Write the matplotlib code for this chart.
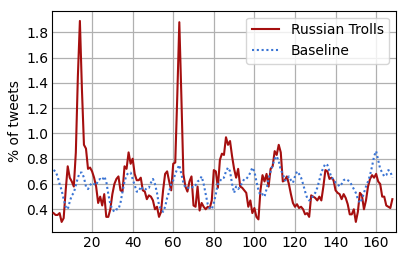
import matplotlib
matplotlib.use("Agg")
import matplotlib.pyplot as plt
import numpy as np

hours = list(range(1, 169))

trolls = [
    0.37, 0.355, 0.355, 0.37, 0.30, 0.33, 0.55, 0.74, 0.65, 0.62,
    0.58, 0.85, 1.45, 1.89, 1.35, 0.91, 0.88, 0.72, 0.73, 0.70,
    0.65, 0.58, 0.45, 0.50, 0.43, 0.52, 0.34, 0.34, 0.40, 0.52,
    0.60, 0.64, 0.66, 0.55, 0.54, 0.74, 0.72, 0.85, 0.76, 0.80,
    0.68, 0.63, 0.63, 0.65, 0.55, 0.54, 0.48, 0.51, 0.50, 0.47,
    0.40, 0.42, 0.34, 0.38, 0.55, 0.68, 0.70, 0.62, 0.55, 0.76,
    0.77, 1.30, 1.88, 1.30, 0.68, 0.58, 0.54, 0.62, 0.66, 0.43,
    0.42, 0.58, 0.39, 0.45, 0.42, 0.40, 0.42, 0.41, 0.47, 0.71,
    0.70, 0.57, 0.79, 0.84, 0.83, 0.97, 0.91, 0.94, 0.82, 0.72,
    0.65, 0.72, 0.58, 0.57, 0.55, 0.53, 0.42, 0.47, 0.37, 0.41,
    0.34, 0.32, 0.55, 0.67, 0.62, 0.68, 0.58, 0.72, 0.74, 0.86,
    0.83, 0.91, 0.85, 0.62, 0.63, 0.66, 0.60, 0.52, 0.45, 0.42,
    0.44, 0.41, 0.42, 0.40, 0.36, 0.37, 0.34, 0.51, 0.50, 0.49,
    0.47, 0.50, 0.47, 0.58, 0.71, 0.70, 0.64, 0.65, 0.63, 0.55,
    0.53, 0.52, 0.48, 0.52, 0.49, 0.44, 0.36, 0.36, 0.40, 0.30,
    0.38, 0.53, 0.51, 0.40, 0.47, 0.58, 0.64, 0.67, 0.65, 0.68,
    0.62, 0.60, 0.50, 0.50, 0.43, 0.42, 0.41, 0.48,
]

baseline = [
    0.71, 0.70, 0.66, 0.60, 0.55, 0.48, 0.42, 0.40, 0.46, 0.51,
    0.53, 0.59, 0.65, 0.69, 0.69, 0.65, 0.58, 0.56, 0.59, 0.61,
    0.60, 0.59, 0.63, 0.64, 0.63, 0.66, 0.62, 0.52, 0.44, 0.40,
    0.38, 0.40, 0.40, 0.45, 0.54, 0.62, 0.67, 0.69, 0.69, 0.64,
    0.59, 0.54, 0.54, 0.58, 0.56, 0.55, 0.57, 0.57, 0.61, 0.64,
    0.60, 0.53, 0.43, 0.40, 0.38, 0.42, 0.49, 0.54, 0.60, 0.63,
    0.68, 0.72, 0.75, 0.68, 0.61, 0.57, 0.57, 0.57, 0.58, 0.57,
    0.59, 0.62, 0.63, 0.66, 0.60, 0.52, 0.44, 0.41, 0.40, 0.45,
    0.52, 0.60, 0.62, 0.65, 0.65, 0.70, 0.73, 0.70, 0.60, 0.53,
    0.58, 0.56, 0.58, 0.61, 0.64, 0.64, 0.66, 0.69, 0.73, 0.70,
    0.62, 0.55, 0.51, 0.52, 0.50, 0.56, 0.64, 0.70, 0.75, 0.80,
    0.82, 0.78, 0.71, 0.68, 0.63, 0.63, 0.66, 0.63, 0.61, 0.66,
    0.70, 0.68, 0.65, 0.60, 0.54, 0.49, 0.47, 0.48, 0.51, 0.53,
    0.57, 0.63, 0.69, 0.73, 0.76, 0.75, 0.70, 0.65, 0.64, 0.61,
    0.60, 0.58, 0.60, 0.63, 0.64, 0.63, 0.62, 0.59, 0.56, 0.53,
    0.48, 0.45, 0.48, 0.53, 0.58, 0.62, 0.67, 0.74, 0.82, 0.86,
    0.79, 0.72, 0.69, 0.66, 0.67, 0.71, 0.70, 0.65,
]

series_labels = ["Russian Trolls", "Baseline"]
xticks = [20, 40, 60, 80, 100, 120, 140, 160]
yticks = [0.4, 0.6, 0.8, 1.0, 1.2, 1.4, 1.6, 1.8]

plt.rcParams['font.family'] = ['DejaVu Sans']
fs = 10

fig = plt.figure(figsize=(4.07, 2.61), dpi=100)
ax = fig.add_axes([0.1285, 0.110, 0.8445, 0.849])

ax.plot(hours, trolls, color="#a50f0f", lw=1.5, label=series_labels[0], zorder=3)
ax.plot(hours, baseline, color="#3a74d4", lw=1.5, ls=(0, (1.0, 1.3)), label=series_labels[1], zorder=3)

ax.set_xlim(0.4, 169.8)
ax.set_ylim(0.218, 1.971)
ax.set_xticks(xticks)
ax.set_yticks(yticks)
ax.set_yticklabels([f"{v:.1f}" for v in yticks])
ax.grid(True, color="#b0b0b0", lw=0.9)
ax.set_axisbelow(True)
ax.tick_params(axis='both', length=0, labelsize=fs, pad=3)
for s in ax.spines.values():
    s.set_linewidth(0.8)
    s.set_color("black")
ax.set_ylabel("% of tweets", fontsize=fs, labelpad=3)
ax.legend(loc="upper right", fontsize=fs, framealpha=0.8)

fig.savefig("out.png", dpi=100)
